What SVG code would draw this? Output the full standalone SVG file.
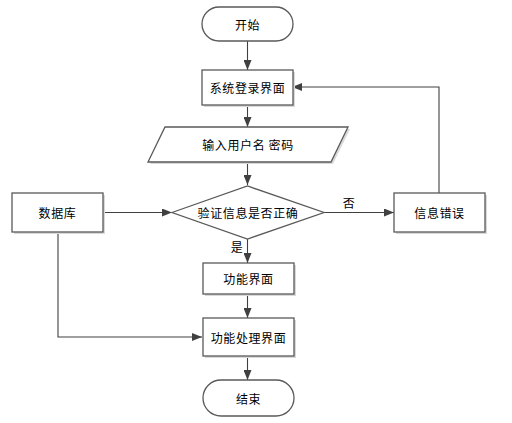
<svg xmlns="http://www.w3.org/2000/svg" width="512" height="423" viewBox="0 0 512 423">
<defs>
<style>
.s{fill:#fff;stroke:#595959;stroke-width:1.3}
.sh{fill:#d9d9d9;stroke:none}
.t{font-family:"Noto Sans CJK SC","Microsoft YaHei",sans-serif;font-size:12px;fill:#000;text-anchor:middle;dominant-baseline:central;letter-spacing:0.6px}
.c{fill:none;stroke:#404040;stroke-width:1.1}
</style>
<marker id="a" viewBox="0 0 10 8" refX="10" refY="4" markerWidth="10" markerHeight="8" markerUnits="userSpaceOnUse" orient="auto">
<path d="M0,0L10,4L0,8Z" fill="#404040"/>
</marker>
</defs>
<rect width="512" height="423" fill="#fff"/>
<g id="connectors">
<path class="c" d="M247.5,41V70" marker-end="url(#a)"/>
<path class="c" d="M247.5,105V127" marker-end="url(#a)"/>
<path class="c" d="M247.5,162V185" marker-end="url(#a)"/>
<path class="c" d="M103,212.5H172" marker-end="url(#a)"/>
<path class="c" d="M324,212.5H394" marker-end="url(#a)"/>
<path class="c" d="M439,193V87H292" marker-end="url(#a)"/>
<path class="c" d="M247.5,239V263" marker-end="url(#a)"/>
<path class="c" d="M247.5,294V318" marker-end="url(#a)"/>
<path class="c" d="M58,232V337H202" marker-end="url(#a)"/>
<path class="c" d="M247.5,356V380" marker-end="url(#a)"/>
<text class="t" x="349" y="202">否</text>
<text class="t" x="237" y="246">是</text>
</g>
<g id="start">
<rect class="s" x="202" y="7" width="91" height="34" rx="17"/>
<text class="t" x="247.5" y="24">开始</text>
</g>
<g id="login">
<rect class="sh" x="204" y="72" width="91" height="35"/>
<rect class="s" x="202" y="70" width="91" height="35"/>
<text class="t" x="247.5" y="87.5">系统登录界面</text>
</g>
<g id="input">
<polygon class="sh" points="167,129 350,129 333,164 150,164"/>
<polygon class="s" points="165,127 348,127 331,162 148,162"/>
<text class="t" x="248" y="144.5">输入用户名 密码</text>
</g>
<g id="verify">
<polygon class="s" points="172,212.5 247.5,186 324,212.5 247.5,239"/>
<text class="t" x="248" y="212.5">验证信息是否正确</text>
</g>
<g id="database">
<rect class="sh" x="14" y="195" width="91" height="39"/>
<rect class="s" x="12" y="193" width="91" height="39"/>
<text class="t" x="57.5" y="212.5">数据库</text>
</g>
<g id="error">
<rect class="sh" x="396" y="195" width="91" height="39"/>
<rect class="s" x="394" y="193" width="91" height="39"/>
<text class="t" x="439.5" y="212.5">信息错误</text>
</g>
<g id="func">
<rect class="sh" x="205" y="265" width="91" height="31"/>
<rect class="s" x="203" y="263" width="91" height="31"/>
<text class="t" x="248.5" y="278.5">功能界面</text>
</g>
<g id="process">
<rect class="sh" x="205" y="320" width="91" height="38"/>
<rect class="s" x="203" y="318" width="91" height="38"/>
<text class="t" x="248.5" y="337">功能处理界面</text>
</g>
<g id="end">
<rect class="s" x="203" y="380" width="91" height="36" rx="18"/>
<text class="t" x="248.5" y="398">结束</text>
</g>
</svg>
